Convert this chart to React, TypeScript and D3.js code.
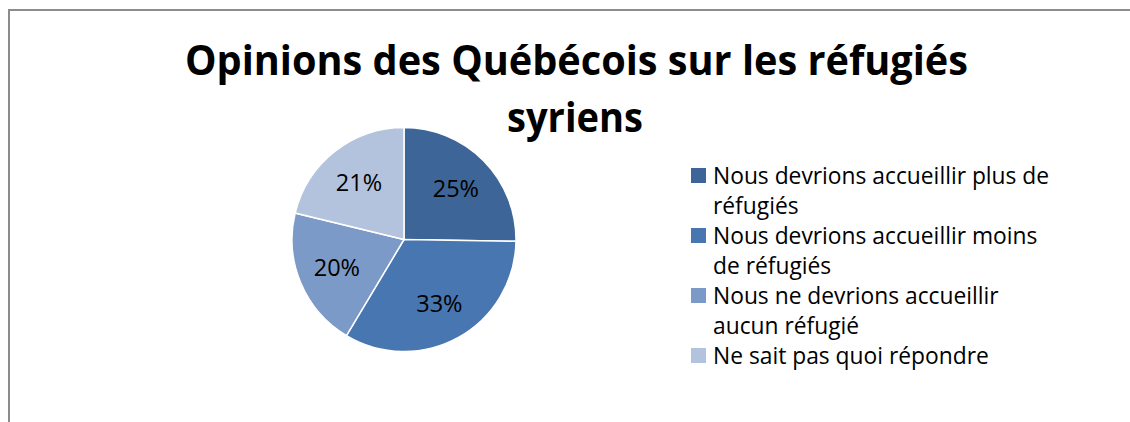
import React from "react";
import * as d3 from "d3";

const titleLines = ["Opinions des Québécois sur les réfugiés", "syriens"];
const categories = [
  ["Nous devrions accueillir plus de", "réfugiés"],
  ["Nous devrions accueillir moins", "de réfugiés"],
  ["Nous ne devrions accueillir", "aucun réfugié"],
  ["Ne sait pas quoi répondre"],
];
const values = [25, 33, 20, 21];
const labels = ["25%", "33%", "20%", "21%"];
const colors = ["#3D6597", "#4876B0", "#7C9AC8", "#B4C3DD"];

const W = 1130;
const H = 422;
const FONT = "'Open Sans', 'Noto Sans', sans-serif";

export default function App() {
  const cx = 404;
  const cy = 239.5;
  const r = 112;
  const pie = d3.pie<number>().sort(null).value((d) => d)(values);
  const arc = d3.arc<d3.PieArcDatum<number>>().innerRadius(0).outerRadius(r);
  const labelArc = d3
    .arc<d3.PieArcDatum<number>>()
    .innerRadius(r * 0.65)
    .outerRadius(r * 0.65);

  let lineIdx = 0;
  const legendItems = categories.map((lines, i) => {
    const start = lineIdx;
    lineIdx += lines.length;
    return { lines, i, start };
  });
  const legendY0 = 184;
  const legendStep = 30;

  return (
    <svg
      width={W}
      height={H}
      style={{ position: "absolute", left: 0, top: 0, background: "#fff", display: "block" }}
    >
      <rect x={8} y={9} width={2} height={H - 9} fill="#8C8C8C" />
      <rect x={8} y={9} width={W - 8} height={2} fill="#8C8C8C" />
      <g fontFamily={FONT} fontWeight="bold" fill="#000" textAnchor="middle">
        <text x={576.5} y={75} fontSize={41} textLength={783} lengthAdjust="spacingAndGlyphs">
          {titleLines[0]}
        </text>
        <text x={575} y={132} fontSize={41} textLength={136} lengthAdjust="spacingAndGlyphs">
          {titleLines[1]}
        </text>
      </g>
      <g transform={`translate(${cx},${cy})`}>
        {pie.map((p, i) => (
          <path key={i} d={arc(p) || ""} fill={colors[i]} stroke="#fff" strokeWidth={1.5} />
        ))}
        {pie.map((p, i) => {
          const [x, y] = labelArc.centroid(p);
          return (
            <text
              key={"l" + i}
              x={x}
              y={y}
              dy="0.36em"
              textAnchor="middle"
              fontFamily={FONT}
              fontSize={23.5}
              fill="#000"
            >
              {labels[i]}
            </text>
          );
        })}
      </g>
      <g fontFamily={FONT} fontSize={22.8} fill="#000">
        {legendItems.map(({ lines, i, start }) => (
          <g key={i}>
            <rect x={691} y={legendY0 + start * legendStep - 16} width={15} height={15} fill={colors[i]} />
            {lines.map((t, j) => (
              <text key={j} x={713} y={legendY0 + (start + j) * legendStep}>
                {t}
              </text>
            ))}
          </g>
        ))}
      </g>
    </svg>
  );
}
